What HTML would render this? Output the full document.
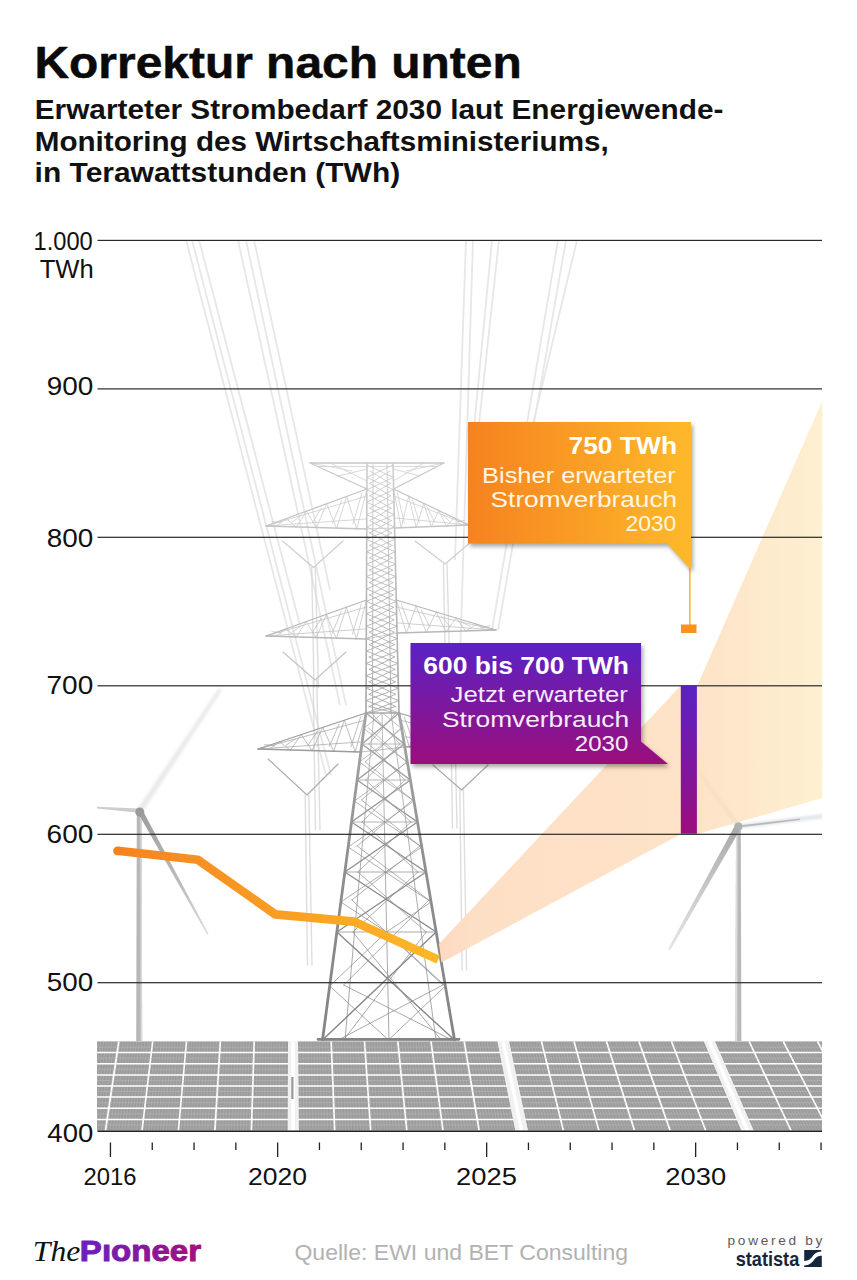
<!DOCTYPE html>
<html><head><meta charset="utf-8"><title>Korrektur nach unten</title>
<style>html,body{margin:0;padding:0;background:#fff}body{width:857px;height:1280px;overflow:hidden}svg{display:block}text{font-family:"Liberation Sans",sans-serif}.se{font-family:"Liberation Serif",serif}</style>
</head><body>
<svg width="857" height="1280" viewBox="0 0 857 1280">
<defs>
<linearGradient id="gOr" x1="0" y1="0" x2="1" y2="0"><stop offset="0" stop-color="#f6821f"/><stop offset="1" stop-color="#fdb92a"/></linearGradient>
<linearGradient id="gPu" x1="0" y1="0" x2="0" y2="1"><stop offset="0" stop-color="#5a22c4"/><stop offset="1" stop-color="#9b0e7c"/></linearGradient>
<linearGradient id="gLine" gradientUnits="userSpaceOnUse" x1="113" y1="0" x2="440" y2="0"><stop offset="0" stop-color="#f58220"/><stop offset="1" stop-color="#fdb827"/></linearGradient>
<linearGradient id="gCone" gradientUnits="userSpaceOnUse" x1="438" y1="0" x2="822" y2="0"><stop offset="0" stop-color="#fcd9c0"/><stop offset="0.08" stop-color="#fddfc6"/><stop offset="0.68" stop-color="#fee3c8"/><stop offset="1" stop-color="#fdf0d0"/></linearGradient>
<linearGradient id="gPy" gradientUnits="userSpaceOnUse" x1="0" y1="700" x2="0" y2="1040"><stop offset="0" stop-color="#a8a8a8"/><stop offset="0.5" stop-color="#8e8e8e"/><stop offset="1" stop-color="#848484"/></linearGradient>
<linearGradient id="gPyU" gradientUnits="userSpaceOnUse" x1="0" y1="463" x2="0" y2="713"><stop offset="0" stop-color="#cfcfcf"/><stop offset="0.5" stop-color="#b9b9b9"/><stop offset="1" stop-color="#a4a4a4"/></linearGradient>
<linearGradient id="gLogo" x1="0" y1="0" x2="1" y2="0"><stop offset="0" stop-color="#6a1fc4"/><stop offset="1" stop-color="#a3107a"/></linearGradient>
<filter id="sh" color-interpolation-filters="sRGB" x="-10%" y="-10%" width="125%" height="130%"><feGaussianBlur in="SourceAlpha" stdDeviation="2.2"/><feOffset dx="1.5" dy="2.5"/><feComponentTransfer><feFuncA type="linear" slope="0.35"/></feComponentTransfer><feMerge><feMergeNode/><feMergeNode in="SourceGraphic"/></feMerge></filter>
<filter id="bl1"><feGaussianBlur stdDeviation="0.6"/></filter>
<filter id="bl2"><feGaussianBlur stdDeviation="1.6"/></filter>
<clipPath id="cp"><rect x="97" y="236" width="725" height="896"/></clipPath>
</defs>
<rect width="857" height="1280" fill="#fff"/>
<g clip-path="url(#cp)">
<g stroke="#e7e7e7" stroke-width="1.8" fill="none" filter="url(#bl1)">
<line x1="186" y1="240" x2="326" y2="775"/>
<line x1="192" y1="240" x2="331" y2="775"/>
<line x1="199" y1="240" x2="300" y2="625"/>
<line x1="238" y1="240" x2="340" y2="705"/>
<line x1="246" y1="240" x2="346" y2="705"/>
<line x1="254" y1="240" x2="330" y2="590"/>
<line x1="466" y1="240" x2="455" y2="560"/>
<line x1="473" y1="240" x2="460" y2="660"/>
<line x1="492" y1="240" x2="470" y2="470"/>
<line x1="499" y1="240" x2="474" y2="470"/>
<line x1="558" y1="240" x2="492" y2="630"/>
<line x1="566" y1="240" x2="498" y2="630"/>
<line x1="577" y1="240" x2="522" y2="470"/>
</g>
<g fill="none" stroke-linecap="round" filter="url(#bl1)">
<path d="M311.7,567.5L314.0,687.5M315.3,567.5L318.5,687.5M443.4,564.0L445.7,684.0M447.0,564.0L450.2,684.0M313.2,680.0L315.5,830.0M316.8,680.0L320.0,830.0M450.2,678.0L452.5,828.0M453.8,678.0L457.0,828.0M305.2,795.0L307.5,965.0M308.8,795.0L312.0,965.0M459.8,790.0L462.1,970.0M463.4,790.0L466.6,970.0" stroke="#d6d6d6" stroke-width="1.4" opacity="0.8"/>
<path d="M282.5,541.0L313.5,567.5M343.0,541.0L313.5,567.5M415.0,541.0L445.2,564.0M472.0,541.0L445.2,564.0" stroke="#cecece" stroke-width="1.15"/>
<path d="M283.0,652.0L315.0,680.0M346.0,652.0L315.0,680.0M424.0,652.0L452.0,678.0M482.0,652.0L452.0,678.0" stroke="#c4c4c4" stroke-width="1.15"/>
<path d="M268.0,759.0L307.0,795.0M338.0,764.0L307.0,795.0M433.0,765.0L461.6,790.0M488.0,765.0L461.6,790.0" stroke="#adadad" stroke-width="1.15"/>
<path d="M366.9,496.0L266.0,526.0M393.6,496.0L469.0,525.0M266.0,526.0L365.7,519.0M469.0,525.0L395.5,518.0M366.9,489.0L356.8,529.0M356.8,529.0L346.7,496.4M361.9,493.0L352.8,524.0M346.7,496.4L336.6,528.4M336.6,528.4L326.5,503.8M341.7,500.4L332.6,523.4M326.5,503.8L316.4,527.8M316.4,527.8L306.4,511.2M321.5,507.8L312.4,522.8M306.4,511.2L296.3,527.2M296.3,527.2L286.2,518.6M301.3,515.2L292.2,522.2M286.2,518.6L276.1,526.6M276.1,526.6L266.0,526.0M281.1,522.6L272.1,521.6M393.6,489.0L401.2,528.0M401.2,528.0L408.7,496.2M397.4,493.0L404.2,523.0M408.7,496.2L416.2,527.4M416.2,527.4L423.8,503.4M412.5,500.2L419.3,522.4M423.8,503.4L431.3,526.8M431.3,526.8L438.8,510.6M427.5,507.4L434.3,521.8M438.8,510.6L446.4,526.2M446.4,526.2L453.9,517.8M442.6,514.6L449.4,521.2M453.9,517.8L461.5,525.6M461.5,525.6L469.0,525.0M457.7,521.8L464.5,520.6M366.7,529.0L394.5,528.0" stroke="#cdcdcd" stroke-width="0.8"/>
<path d="M366.9,489.0L266.0,526.0M266.0,526.0L366.7,529.0M393.6,489.0L469.0,525.0M469.0,525.0L394.5,528.0" stroke="#c4c4c4" stroke-width="1.3"/>
<path d="M366.5,607.0L266.0,636.0M396.3,607.0L496.0,630.0M266.0,636.0L365.3,629.0M496.0,630.0L398.0,623.0M366.5,600.0L356.4,639.0M356.4,639.0L346.4,607.2M361.4,604.0L352.4,634.0M346.4,607.2L336.3,638.4M336.3,638.4L326.3,614.4M341.3,611.2L332.3,633.4M326.3,614.4L316.2,637.8M316.2,637.8L306.2,621.6M321.2,618.4L312.2,632.8M306.2,621.6L296.1,637.2M296.1,637.2L286.1,628.8M301.2,625.6L292.1,632.2M286.1,628.8L276.0,636.6M276.0,636.6L266.0,636.0M281.1,632.8L272.0,631.6M396.3,600.0L406.3,633.0M406.3,633.0L416.2,606.0M401.3,604.0L410.2,628.0M416.2,606.0L426.2,632.4M426.2,632.4L436.2,612.0M421.2,610.0L430.2,627.4M436.2,612.0L446.1,631.8M446.1,631.8L456.1,618.0M441.2,616.0L450.1,626.8M456.1,618.0L466.1,631.2M466.1,631.2L476.1,624.0M461.1,622.0L470.1,626.2M476.1,624.0L486.0,630.6M486.0,630.6L496.0,630.0M481.0,628.0L490.0,625.6M366.3,639.0L397.0,633.0" stroke="#c4c4c4" stroke-width="0.8"/>
<path d="M366.5,600.0L266.0,636.0M266.0,636.0L366.3,639.0M396.3,600.0L496.0,630.0M496.0,630.0L397.1,633.0" stroke="#b8b8b8" stroke-width="1.3"/>
<path d="M366.0,720.0L258.0,749.0M399.0,720.0L502.0,744.0M258.0,749.0L360.2,742.0M502.0,744.0L405.3,737.0M366.0,713.0L355.2,752.0M355.2,752.0L344.4,720.2M360.6,717.0L350.9,747.0M344.4,720.2L333.6,751.4M333.6,751.4L322.8,727.4M339.0,724.2L329.3,746.4M322.8,727.4L312.0,750.8M312.0,750.8L301.2,734.6M317.4,731.4L307.7,745.8M301.2,734.6L290.4,750.2M290.4,750.2L279.6,741.8M295.8,738.6L286.1,745.2M279.6,741.8L268.8,749.6M268.8,749.6L258.0,749.0M274.2,745.8L264.5,744.6M399.0,713.0L409.3,747.0M409.3,747.0L419.6,719.2M404.1,717.0L413.4,742.0M419.6,719.2L429.9,746.4M429.9,746.4L440.2,725.4M424.8,723.2L434.0,741.4M440.2,725.4L450.5,745.8M450.5,745.8L460.8,731.6M445.3,729.4L454.6,740.8M460.8,731.6L471.1,745.2M471.1,745.2L481.4,737.8M465.9,735.6L475.2,740.2M481.4,737.8L491.7,744.6M491.7,744.6L502.0,744.0M486.5,741.8L495.8,739.6M361.2,752.0L404.3,747.0" stroke="#adadad" stroke-width="0.8"/>
<path d="M366.0,713.0L258.0,749.0M258.0,749.0L360.9,752.0M399.0,713.0L502.0,744.0M502.0,744.0L404.6,747.0" stroke="#9c9c9c" stroke-width="1.3"/>
<path d="M318.0,466.5L436.0,466.5M310.0,463.0L352.0,471.0M444.0,463.0L406.0,471.0M330.0,463.0L366.9,481.0M424.0,463.0L393.4,481.0M338.0,476.0L367.0,469.0M420.0,476.0L393.0,469.0" stroke="#d0d0d0" stroke-width="0.8"/>
<path d="M310.0,463.0L444.0,463.0M310.0,463.0L366.9,489.0M444.0,463.0L393.6,489.0" stroke="#c8c8c8" stroke-width="1.3"/>
<path d="M367.0,465.0L393.3,477.4M393.0,465.0L366.9,477.4M366.9,477.4L393.6,489.8M393.3,477.4L366.9,489.8M366.9,489.8L393.9,502.2M393.6,489.8L366.8,502.2M366.8,502.2L394.2,514.6M393.9,502.2L366.8,514.6M366.8,514.6L394.5,527.0M394.2,514.6L366.7,527.0M366.7,527.0L394.8,539.4M394.5,527.0L366.7,539.4M366.7,539.4L395.1,551.8M394.8,539.4L366.6,551.8M366.6,551.8L395.4,564.2M395.1,551.8L366.6,564.2M366.6,564.2L395.7,576.6M395.4,564.2L366.5,576.6M366.5,576.6L396.0,589.0M395.7,576.6L366.5,589.0M366.5,589.0L396.3,601.4M396.0,589.0L366.4,601.4M366.4,601.4L396.6,613.8M396.3,601.4L366.4,613.8M366.4,613.8L396.9,626.2M396.6,613.8L366.3,626.2M366.3,626.2L397.2,638.6M396.9,626.2L366.3,638.6M366.3,638.6L397.5,651.0M397.2,638.6L366.2,651.0M366.2,651.0L397.8,663.4M397.5,651.0L366.2,663.4M366.2,663.4L398.1,675.8M397.8,663.4L366.1,675.8M366.1,675.8L398.4,688.2M398.1,675.8L366.1,688.2M366.1,688.2L398.7,700.6M398.4,688.2L366.0,700.6M366.0,700.6L399.0,713.0M398.7,700.6L366.0,713.0M366.0,713.0L399.0,713.0M399.0,713.0L366.0,713.0M370.0,471.0L390.5,483.4M390.2,471.0L369.9,483.4M369.9,483.4L390.8,495.8M390.5,483.4L369.9,495.8M369.9,495.8L391.1,508.2M390.8,495.8L369.8,508.2M369.8,508.2L391.4,520.6M391.1,508.2L369.8,520.6M369.8,520.6L391.7,533.0M391.4,520.6L369.7,533.0M369.7,533.0L392.0,545.4M391.7,533.0L369.7,545.4M369.7,545.4L392.3,557.8M392.0,545.4L369.6,557.8M369.6,557.8L392.6,570.2M392.3,557.8L369.6,570.2M369.6,570.2L392.9,582.6M392.6,570.2L369.5,582.6M369.5,582.6L393.2,595.0M392.9,582.6L369.5,595.0M369.5,595.0L393.5,607.4M393.2,595.0L369.4,607.4M369.4,607.4L393.8,619.8M393.5,607.4L369.4,619.8M369.4,619.8L394.1,632.2M393.8,619.8L369.3,632.2M369.3,632.2L394.4,644.6M394.1,632.2L369.3,644.6M369.3,644.6L394.7,657.0M394.4,644.6L369.2,657.0M369.2,657.0L395.0,669.4M394.7,657.0L369.2,669.4M369.2,669.4L395.3,681.8M395.0,669.4L369.1,681.8M369.1,681.8L395.5,694.2M395.3,681.8L369.1,694.2M369.1,694.2L395.8,706.6M395.5,694.2L369.0,706.6M369.0,706.6L396.0,713.0M395.8,706.6L369.0,713.0M373.0,463.0L372.5,713.0M387.0,463.0L391.0,713.0" stroke="url(#gPyU)" stroke-width="0.9"/>
<path d="M367.0,463 L366.0,713M393.0,463 L399.0,713" stroke="url(#gPyU)" stroke-width="1.6"/>
<path d="M361.9,744.0L404.3,744.0M363.9,728.5L382.5,713.0M401.6,728.5L382.5,713.0M363.9,728.5L383.1,744.0M401.6,728.5L383.1,744.0M371.3,713.0L400.0,744.0M395.7,713.0L368.7,744.0M357.1,780.0L410.4,780.0M359.5,762.0L383.1,744.0M407.3,762.0L383.1,744.0M359.5,762.0L383.7,780.0M407.3,762.0L383.7,780.0M368.7,744.0L405.0,780.0M400.0,744.0L365.6,780.0M351.5,822.0L417.5,822.0M354.3,801.0L383.7,780.0M413.9,801.0L383.7,780.0M354.3,801.0L384.5,822.0M413.9,801.0L384.5,822.0M365.6,780.0L410.9,822.0M405.0,780.0L362.1,822.0M344.8,872.0L426.0,872.0M348.2,847.0L384.5,822.0M421.7,847.0L384.5,822.0M348.2,847.0L385.4,872.0M421.7,847.0L385.4,872.0M362.1,822.0L417.9,872.0M410.9,822.0L357.8,872.0M336.9,932.0L436.2,932.0M340.9,902.0L385.4,872.0M431.1,902.0L385.4,872.0M340.9,902.0L386.5,932.0M431.1,902.0L386.5,932.0M357.8,872.0L426.2,932.0M417.9,872.0L352.8,932.0M322.5,1040.0L454.5,1040.0M329.7,986.0L386.5,932.0M445.3,986.0L386.5,932.0M329.7,986.0L388.5,1040.0M445.3,986.0L388.5,1040.0M352.8,932.0L441.3,1040.0M426.2,932.0L343.6,1040.0M368.5,728.0L406.4,762.0M400.8,728.0L365.2,762.0M365.2,762.0L412.6,800.0M406.4,762.0L361.5,800.0M361.5,800.0L420.1,846.0M412.6,800.0L357.1,846.0M357.1,846.0L428.9,900.0M420.1,846.0L351.9,900.0M351.9,900.0L442.9,985.0M428.9,900.0L343.7,985.0M343.7,985.0L451.9,1040.0M442.9,985.0L338.3,1040.0M374.0,713.0L345.0,1040.0M391.0,713.0L436.0,1040.0M382.0,713.0L389.0,1040.0" stroke="url(#gPy)" stroke-width="0.8" opacity="0.9"/>
<path d="M366.0,713.0L404.3,744.0M399.0,713.0L361.9,744.0M361.9,744.0L410.4,780.0M404.3,744.0L357.1,780.0M357.1,780.0L417.5,822.0M410.4,780.0L351.5,822.0M351.5,822.0L426.0,872.0M417.5,822.0L344.8,872.0M344.8,872.0L436.2,932.0M426.0,872.0L336.9,932.0M336.9,932.0L454.5,1040.0M436.2,932.0L322.5,1040.0" stroke="url(#gPy)" stroke-width="1.4"/>
<path d="M366.0,713 L322.5,1040M399.0,713 L454.5,1040M318.0,1039.3L459.0,1039.3" stroke="url(#gPy)" stroke-width="2.8"/>
</g>
<path d="M137.5,809 L142,813 L222,690 L219,688 Z" fill="#e9e9e9" filter="url(#bl2)"/>
<g filter="url(#bl1)">
<path d="M136.8,812 L141.6,812 L142.2,1041 L136.2,1041 Z" fill="#b7b7b7"/>
<path d="M140.2,812 L141.6,812 L142.2,1041 L140.6,1041 Z" fill="#d9d9d9"/>
<linearGradient id="gB1" gradientUnits="userSpaceOnUse" x1="139" y1="811" x2="208" y2="934"><stop offset="0" stop-color="#9c9c9c"/><stop offset="0.6" stop-color="#bdbdbd"/><stop offset="1" stop-color="#dcdcdc"/></linearGradient>
<path d="M138,813 L142.6,810.2 L208.6,934 L207.2,934.6 Z" fill="url(#gB1)"/>
<path d="M139,808.6 L139,812.8 L97,808.6 L97,806.8 Z" fill="#cdcdcd"/>
<circle cx="139.8" cy="812" r="4.5" fill="#9a9a9a"/>
</g>
<g filter="url(#bl1)">
<path d="M736,828 L740.8,828 L741.4,1041 L735.4,1041 Z" fill="#b9b9b9"/>
<path d="M736,828 L737.6,828 L737.2,1041 L735.4,1041 Z" fill="#dedede"/>
<circle cx="738.4" cy="826.4" r="4" fill="#b0b0b0"/>
<linearGradient id="gB2" gradientUnits="userSpaceOnUse" x1="738" y1="826" x2="669" y2="950"><stop offset="0" stop-color="#a8a8a8"/><stop offset="0.5" stop-color="#c8c8c8"/><stop offset="1" stop-color="#e6e6e6"/></linearGradient>
<path d="M735.5,824.5 L741,828 L670,950.5 L668,949 Z" fill="url(#gB2)"/>
</g>
<g>
<rect x="97" y="1041.5" width="725" height="89.0" fill="#ececec"/>
<path d="M85,1041.5 L288,1041.5 L287.8,1130.5 L69.0,1130.5 Z" fill="#9c9c9c"/>
<path d="M298,1041.5 L497.5,1041.5 L515.4,1130.5 L298.7,1130.5 Z" fill="#9c9c9c"/>
<path d="M509,1041.5 L704,1041.5 L741.4,1130.5 L527.9,1130.5 Z" fill="#9c9c9c"/>
<path d="M715,1041.5 L920,1041.5 L979.6,1130.5 L753.5,1130.5 Z" fill="#9c9c9c"/>
<path d="M87.2,1041.5L71.4,1130.5M90.0,1041.5L74.3,1130.5M92.7,1041.5L77.3,1130.5M95.5,1041.5L80.3,1130.5M98.2,1041.5L83.2,1130.5M101.0,1041.5L86.2,1130.5M103.7,1041.5L89.2,1130.5M106.5,1041.5L92.1,1130.5M109.2,1041.5L95.1,1130.5M112.0,1041.5L98.1,1130.5M114.7,1041.5L101.0,1130.5M117.5,1041.5L104.0,1130.5M120.2,1041.5L107.0,1130.5M123.0,1041.5L109.9,1130.5M125.7,1041.5L112.9,1130.5M128.4,1041.5L115.8,1130.5M131.2,1041.5L118.8,1130.5M133.9,1041.5L121.8,1130.5M136.7,1041.5L124.7,1130.5M139.4,1041.5L127.7,1130.5M142.2,1041.5L130.7,1130.5M144.9,1041.5L133.6,1130.5M147.7,1041.5L136.6,1130.5M150.4,1041.5L139.6,1130.5M153.2,1041.5L142.5,1130.5M155.9,1041.5L145.5,1130.5M158.7,1041.5L148.5,1130.5M161.4,1041.5L151.4,1130.5M164.2,1041.5L154.4,1130.5M166.9,1041.5L157.4,1130.5M169.7,1041.5L160.3,1130.5M172.4,1041.5L163.3,1130.5M175.2,1041.5L166.2,1130.5M177.9,1041.5L169.2,1130.5M180.7,1041.5L172.2,1130.5M183.4,1041.5L175.1,1130.5M186.2,1041.5L178.1,1130.5M188.9,1041.5L181.1,1130.5M191.7,1041.5L184.0,1130.5M194.4,1041.5L187.0,1130.5M197.2,1041.5L190.0,1130.5M199.9,1041.5L192.9,1130.5M202.7,1041.5L195.9,1130.5M205.4,1041.5L198.9,1130.5M208.2,1041.5L201.8,1130.5M210.9,1041.5L204.8,1130.5M213.7,1041.5L207.7,1130.5M216.4,1041.5L210.7,1130.5M219.2,1041.5L213.7,1130.5M221.9,1041.5L216.6,1130.5M224.7,1041.5L219.6,1130.5M227.4,1041.5L222.6,1130.5M230.2,1041.5L225.5,1130.5M232.9,1041.5L228.5,1130.5M235.7,1041.5L231.5,1130.5M238.4,1041.5L234.4,1130.5M241.2,1041.5L237.4,1130.5M243.9,1041.5L240.4,1130.5M246.7,1041.5L243.3,1130.5M249.4,1041.5L246.3,1130.5M252.2,1041.5L249.3,1130.5M254.9,1041.5L252.2,1130.5M257.7,1041.5L255.2,1130.5M260.4,1041.5L258.1,1130.5M263.2,1041.5L261.1,1130.5M265.9,1041.5L264.1,1130.5M268.7,1041.5L267.0,1130.5M271.4,1041.5L270.0,1130.5M274.2,1041.5L273.0,1130.5M276.9,1041.5L275.9,1130.5M279.7,1041.5L278.9,1130.5M282.4,1041.5L281.9,1130.5M285.2,1041.5L284.8,1130.5M300.2,1041.5L301.0,1130.5M302.9,1041.5L304.0,1130.5M305.7,1041.5L307.0,1130.5M308.4,1041.5L310.0,1130.5M311.2,1041.5L312.9,1130.5M313.9,1041.5L315.9,1130.5M316.7,1041.5L318.9,1130.5M319.4,1041.5L321.9,1130.5M322.2,1041.5L324.9,1130.5M324.9,1041.5L327.8,1130.5M327.7,1041.5L330.8,1130.5M330.4,1041.5L333.8,1130.5M333.2,1041.5L336.8,1130.5M335.9,1041.5L339.8,1130.5M338.7,1041.5L342.7,1130.5M341.4,1041.5L345.7,1130.5M344.2,1041.5L348.7,1130.5M346.9,1041.5L351.7,1130.5M349.7,1041.5L354.7,1130.5M352.4,1041.5L357.6,1130.5M355.2,1041.5L360.6,1130.5M357.9,1041.5L363.6,1130.5M360.7,1041.5L366.6,1130.5M363.4,1041.5L369.6,1130.5M366.2,1041.5L372.6,1130.5M368.9,1041.5L375.5,1130.5M371.7,1041.5L378.5,1130.5M374.4,1041.5L381.5,1130.5M377.2,1041.5L384.5,1130.5M379.9,1041.5L387.5,1130.5M382.7,1041.5L390.5,1130.5M385.4,1041.5L393.5,1130.5M388.2,1041.5L396.4,1130.5M390.9,1041.5L399.4,1130.5M393.7,1041.5L402.4,1130.5M396.4,1041.5L405.4,1130.5M399.2,1041.5L408.4,1130.5M401.9,1041.5L411.4,1130.5M404.7,1041.5L414.4,1130.5M407.4,1041.5L417.4,1130.5M410.2,1041.5L420.3,1130.5M412.9,1041.5L423.3,1130.5M415.7,1041.5L426.3,1130.5M418.4,1041.5L429.3,1130.5M421.2,1041.5L432.3,1130.5M423.9,1041.5L435.3,1130.5M426.7,1041.5L438.3,1130.5M429.4,1041.5L441.3,1130.5M432.2,1041.5L444.3,1130.5M434.9,1041.5L447.3,1130.5M437.7,1041.5L450.2,1130.5M440.4,1041.5L453.2,1130.5M443.2,1041.5L456.2,1130.5M445.9,1041.5L459.2,1130.5M448.7,1041.5L462.2,1130.5M451.4,1041.5L465.2,1130.5M454.2,1041.5L468.2,1130.5M456.9,1041.5L471.2,1130.5M459.7,1041.5L474.2,1130.5M462.4,1041.5L477.2,1130.5M465.2,1041.5L480.2,1130.5M467.9,1041.5L483.2,1130.5M470.7,1041.5L486.2,1130.5M473.4,1041.5L489.2,1130.5M476.2,1041.5L492.2,1130.5M478.9,1041.5L495.2,1130.5M481.7,1041.5L498.2,1130.5M484.4,1041.5L501.2,1130.5M487.2,1041.5L504.1,1130.5M489.9,1041.5L507.1,1130.5M492.7,1041.5L510.1,1130.5M495.4,1041.5L513.1,1130.5M511.2,1041.5L530.3,1130.5M514.0,1041.5L533.3,1130.5M516.7,1041.5L536.3,1130.5M519.5,1041.5L539.3,1130.5M522.2,1041.5L542.3,1130.5M525.0,1041.5L545.3,1130.5M527.7,1041.5L548.3,1130.5M530.5,1041.5L551.3,1130.5M533.2,1041.5L554.3,1130.5M536.0,1041.5L557.3,1130.5M538.7,1041.5L560.3,1130.5M541.5,1041.5L563.3,1130.5M544.2,1041.5L566.3,1130.5M547.0,1041.5L569.3,1130.5M549.7,1041.5L572.3,1130.5M552.5,1041.5L575.3,1130.5M555.2,1041.5L578.4,1130.5M558.0,1041.5L581.4,1130.5M560.7,1041.5L584.4,1130.5M563.5,1041.5L587.4,1130.5M566.2,1041.5L590.4,1130.5M569.0,1041.5L593.4,1130.5M571.7,1041.5L596.4,1130.5M574.5,1041.5L599.4,1130.5M577.2,1041.5L602.4,1130.5M580.0,1041.5L605.4,1130.5M582.7,1041.5L608.4,1130.5M585.5,1041.5L611.4,1130.5M588.2,1041.5L614.4,1130.5M591.0,1041.5L617.4,1130.5M593.7,1041.5L620.4,1130.5M596.5,1041.5L623.5,1130.5M599.2,1041.5L626.5,1130.5M602.0,1041.5L629.5,1130.5M604.7,1041.5L632.5,1130.5M607.5,1041.5L635.5,1130.5M610.2,1041.5L638.5,1130.5M613.0,1041.5L641.5,1130.5M615.7,1041.5L644.5,1130.5M618.5,1041.5L647.5,1130.5M621.2,1041.5L650.6,1130.5M624.0,1041.5L653.6,1130.5M626.7,1041.5L656.6,1130.5M629.5,1041.5L659.6,1130.5M632.2,1041.5L662.6,1130.5M635.0,1041.5L665.6,1130.5M637.7,1041.5L668.6,1130.5M640.5,1041.5L671.6,1130.5M643.2,1041.5L674.7,1130.5M646.0,1041.5L677.7,1130.5M648.7,1041.5L680.7,1130.5M651.5,1041.5L683.7,1130.5M654.2,1041.5L686.7,1130.5M657.0,1041.5L689.7,1130.5M659.7,1041.5L692.7,1130.5M662.5,1041.5L695.8,1130.5M665.2,1041.5L698.8,1130.5M668.0,1041.5L701.8,1130.5M670.7,1041.5L704.8,1130.5M673.5,1041.5L707.8,1130.5M676.2,1041.5L710.9,1130.5M679.0,1041.5L713.9,1130.5M681.7,1041.5L716.9,1130.5M684.5,1041.5L719.9,1130.5M687.2,1041.5L722.9,1130.5M690.0,1041.5L725.9,1130.5M692.7,1041.5L729.0,1130.5M695.5,1041.5L732.0,1130.5M698.2,1041.5L735.0,1130.5M701.0,1041.5L738.0,1130.5M717.2,1041.5L755.9,1130.5M720.0,1041.5L758.9,1130.5M722.7,1041.5L761.9,1130.5M725.5,1041.5L764.9,1130.5M728.2,1041.5L768.0,1130.5M731.0,1041.5L771.0,1130.5M733.7,1041.5L774.0,1130.5M736.5,1041.5L777.0,1130.5M739.2,1041.5L780.1,1130.5M742.0,1041.5L783.1,1130.5M744.7,1041.5L786.1,1130.5M747.5,1041.5L789.1,1130.5M750.2,1041.5L792.2,1130.5M753.0,1041.5L795.2,1130.5M755.7,1041.5L798.2,1130.5M758.5,1041.5L801.3,1130.5M761.2,1041.5L804.3,1130.5M764.0,1041.5L807.3,1130.5M766.7,1041.5L810.3,1130.5M769.5,1041.5L813.4,1130.5M772.2,1041.5L816.4,1130.5M775.0,1041.5L819.4,1130.5M777.7,1041.5L822.4,1130.5M780.5,1041.5L825.5,1130.5M783.2,1041.5L828.5,1130.5M786.0,1041.5L831.5,1130.5M788.7,1041.5L834.6,1130.5M791.5,1041.5L837.6,1130.5M794.2,1041.5L840.6,1130.5M797.0,1041.5L843.7,1130.5M799.7,1041.5L846.7,1130.5M802.5,1041.5L849.7,1130.5M805.2,1041.5L852.8,1130.5M808.0,1041.5L855.8,1130.5M810.7,1041.5L858.8,1130.5M813.5,1041.5L861.9,1130.5M816.2,1041.5L864.9,1130.5M819.0,1041.5L867.9,1130.5M821.7,1041.5L871.0,1130.5M824.5,1041.5L874.0,1130.5M827.2,1041.5L877.0,1130.5M830.0,1041.5L880.1,1130.5M832.7,1041.5L883.1,1130.5M835.5,1041.5L886.1,1130.5M838.2,1041.5L889.2,1130.5M841.0,1041.5L892.2,1130.5M843.7,1041.5L895.2,1130.5M846.5,1041.5L898.3,1130.5M849.2,1041.5L901.3,1130.5M852.0,1041.5L904.3,1130.5M854.7,1041.5L907.4,1130.5M857.5,1041.5L910.4,1130.5M860.2,1041.5L913.5,1130.5M863.0,1041.5L916.5,1130.5M865.7,1041.5L919.5,1130.5M868.5,1041.5L922.6,1130.5M871.2,1041.5L925.6,1130.5M874.0,1041.5L928.7,1130.5M876.7,1041.5L931.7,1130.5M879.5,1041.5L934.7,1130.5M882.2,1041.5L937.8,1130.5M885.0,1041.5L940.8,1130.5M887.7,1041.5L943.9,1130.5M890.5,1041.5L946.9,1130.5M893.2,1041.5L949.9,1130.5M896.0,1041.5L953.0,1130.5M898.7,1041.5L956.0,1130.5M901.5,1041.5L959.1,1130.5M904.2,1041.5L962.1,1130.5M907.0,1041.5L965.2,1130.5M909.7,1041.5L968.2,1130.5M912.5,1041.5L971.2,1130.5M915.2,1041.5L974.3,1130.5M918.0,1041.5L977.3,1130.5" stroke="#b4b4b4" stroke-width="0.7" fill="none" opacity="0.75"/>
<path d="M118.8,1041.5L105.5,1130.5M152.7,1041.5L142.0,1130.5M186.5,1041.5L178.4,1130.5M220.3,1041.5L214.9,1130.5M254.2,1041.5L251.4,1130.5M331.2,1041.5L334.7,1130.5M364.5,1041.5L370.7,1130.5M397.8,1041.5L406.8,1130.5M431.0,1041.5L443.0,1130.5M464.2,1041.5L479.1,1130.5M541.5,1041.5L563.4,1130.5M574.0,1041.5L598.9,1130.5M606.5,1041.5L634.5,1130.5M639.0,1041.5L670.1,1130.5M671.5,1041.5L705.7,1130.5M749.2,1041.5L791.0,1130.5M783.3,1041.5L828.7,1130.5M817.5,1041.5L866.3,1130.5M851.7,1041.5L904.0,1130.5M885.8,1041.5L941.8,1130.5" stroke="#fff" stroke-width="1.7" fill="none"/>
<path d="M97.0,1052.6L822.0,1052.6M97.0,1063.8L822.0,1063.8M97.0,1074.9L822.0,1074.9M97.0,1086.0L822.0,1086.0M97.0,1097.1L822.0,1097.1M97.0,1108.2L822.0,1108.2M97.0,1119.4L822.0,1119.4" stroke="#fff" stroke-width="1.5" fill="none"/>
<path d="M97.0,1047.1L822.0,1047.1M97.0,1058.2L822.0,1058.2M97.0,1069.3L822.0,1069.3M97.0,1080.4L822.0,1080.4M97.0,1091.6L822.0,1091.6M97.0,1102.7L822.0,1102.7M97.0,1113.8L822.0,1113.8M97.0,1124.9L822.0,1124.9" stroke="#c4c4c4" stroke-width="0.6" fill="none" opacity="0.7"/>
<path d="M288,1041.5 L298,1041.5 L298.7,1130.5 L287.8,1130.5 Z" fill="#f1f1f1"/>
<path d="M293.0,1041.5L293.2,1130.5" stroke="#fff" stroke-width="3.5"/>
<path d="M497.5,1041.5 L509,1041.5 L527.9,1130.5 L515.4,1130.5 Z" fill="#f1f1f1"/>
<path d="M503.2,1041.5L521.6,1130.5" stroke="#fff" stroke-width="3.5"/>
<path d="M704,1041.5 L715,1041.5 L753.5,1130.5 L741.4,1130.5 Z" fill="#f1f1f1"/>
<path d="M709.5,1041.5L747.4,1130.5" stroke="#fff" stroke-width="3.5"/>
<rect x="291.3" y="1077" width="2.2" height="22" fill="#999"/>
</g>
</g>
<path d="M439,944 L681,685.3 L697.5,685.3 L822.3,401 L822.3,798 L697.5,834 L681,834 L441.5,962.5 Z" fill="url(#gCone)"/>
<g clip-path="url(#cp)">
<path d="M738,824.5 L738.6,828.5 L830,817.5 L830,813.5 Z" fill="#dfe3e8" filter="url(#bl2)"/>
<path d="M738,825.5 L738.4,827.6 L800,820 L800,818.6 Z" fill="#b8babd" filter="url(#bl1)"/>
<path d="M737,827.5 L740.5,825 L701,773 L699,775 Z" fill="#f1d9c2" opacity="0.6" filter="url(#bl2)"/>
<circle cx="738.4" cy="826.4" r="3.8" fill="#aeb0b2" filter="url(#bl1)"/>
</g>
<rect x="97.5" y="239.8" width="724.5" height="1.2" fill="#2a2a2a"/>
<rect x="97.5" y="388.3" width="724.5" height="1.2" fill="#2a2a2a"/>
<rect x="97.5" y="536.7" width="724.5" height="1.2" fill="#2a2a2a"/>
<rect x="97.5" y="685.2" width="724.5" height="1.2" fill="#2a2a2a"/>
<rect x="97.5" y="833.7" width="724.5" height="1.2" fill="#2a2a2a"/>
<rect x="97.5" y="982.1" width="724.5" height="1.2" fill="#2a2a2a"/>
<rect x="97.5" y="1130.5" width="724.5" height="1.5" fill="#222"/>
<rect x="109.8" y="1142.5" width="1.3" height="14.5" fill="#222"/>
<rect x="151.6" y="1142.5" width="1.3" height="7.5" fill="#222"/>
<rect x="193.4" y="1142.5" width="1.3" height="7.5" fill="#222"/>
<rect x="235.2" y="1142.5" width="1.3" height="7.5" fill="#222"/>
<rect x="277.0" y="1142.5" width="1.3" height="14.5" fill="#222"/>
<rect x="318.8" y="1142.5" width="1.3" height="7.5" fill="#222"/>
<rect x="360.6" y="1142.5" width="1.3" height="7.5" fill="#222"/>
<rect x="402.4" y="1142.5" width="1.3" height="7.5" fill="#222"/>
<rect x="444.2" y="1142.5" width="1.3" height="7.5" fill="#222"/>
<rect x="486.0" y="1142.5" width="1.3" height="14.5" fill="#222"/>
<rect x="527.8" y="1142.5" width="1.3" height="7.5" fill="#222"/>
<rect x="569.6" y="1142.5" width="1.3" height="7.5" fill="#222"/>
<rect x="611.4" y="1142.5" width="1.3" height="7.5" fill="#222"/>
<rect x="653.2" y="1142.5" width="1.3" height="7.5" fill="#222"/>
<rect x="695.0" y="1142.5" width="1.3" height="14.5" fill="#222"/>
<rect x="736.8" y="1142.5" width="1.3" height="7.5" fill="#222"/>
<rect x="778.6" y="1142.5" width="1.3" height="7.5" fill="#222"/>
<rect x="820.4" y="1142.5" width="1.3" height="7.5" fill="#222"/>
<path d="M117.5,850.8 L197.8,859.8 L275.3,914.4 L354,921.6 L438.2,959.6" fill="none" stroke="url(#gLine)" stroke-width="8.7" stroke-linejoin="round"/>
<circle cx="117.5" cy="850.8" r="4.35" fill="#f58220"/>
<rect x="680.8" y="685.3" width="16.1" height="148.5" fill="url(#gPu)"/>
<rect x="689" y="560" width="1.6" height="66" fill="#fdb92a"/>
<rect x="681" y="624.5" width="15.5" height="8.5" fill="#f7931e"/>
<g filter="url(#sh)"><path d="M468,422 H691 V570 L667,543.5 H468 Z" fill="url(#gOr)"/></g>
<g filter="url(#sh)"><path d="M410.5,643 H641 V741.5 L668,764 H410.5 Z" fill="url(#gPu)"/></g>
<text x="568.47" y="454" font-size="24.6" font-weight="700" fill="#fff" textLength="108.57" lengthAdjust="spacingAndGlyphs">750 TWh</text>
<text x="482.01" y="482.8" font-size="21.6" font-weight="400" fill="#fff6e3" textLength="193.81" lengthAdjust="spacingAndGlyphs">Bisher erwarteter</text>
<text x="490.61" y="506.6" font-size="21.6" font-weight="400" fill="#fff6e3" textLength="186.49" lengthAdjust="spacingAndGlyphs">Stromverbrauch</text>
<text x="625.45" y="530.8" font-size="21.6" font-weight="400" fill="#fff6e3" textLength="50.84" lengthAdjust="spacingAndGlyphs">2030</text>
<text x="423.23" y="673.7" font-size="24.6" font-weight="700" fill="#fff" textLength="205.81" lengthAdjust="spacingAndGlyphs">600 bis 700 TWh</text>
<text x="450.60" y="702.4" font-size="21.6" font-weight="400" fill="#f6ecfb" textLength="177.23" lengthAdjust="spacingAndGlyphs">Jetzt erwarteter</text>
<text x="441.90" y="726.6" font-size="21.6" font-weight="400" fill="#f6ecfb" textLength="187.20" lengthAdjust="spacingAndGlyphs">Stromverbrauch</text>
<text x="574.79" y="750.9" font-size="21.6" font-weight="400" fill="#f6ecfb" textLength="53.55" lengthAdjust="spacingAndGlyphs">2030</text>
<text x="34.49" y="78.3" font-size="44.6" font-weight="700" fill="#0a0a0a" textLength="487.18" lengthAdjust="spacingAndGlyphs" stroke="#0a0a0a" stroke-width="0.5" stroke-linejoin="round">Korrektur nach unten</text>
<text x="34.71" y="119.0" font-size="26.8" font-weight="700" fill="#111" textLength="688.69" lengthAdjust="spacingAndGlyphs">Erwarteter Strombedarf 2030 laut Energiewende-</text>
<text x="34.72" y="150.5" font-size="26.8" font-weight="700" fill="#111" textLength="573.96" lengthAdjust="spacingAndGlyphs">Monitoring des Wirtschaftsministeriums,</text>
<text x="34.62" y="181.6" font-size="26.8" font-weight="700" fill="#111" textLength="365.56" lengthAdjust="spacingAndGlyphs">in Terawattstunden (TWh)</text>
<text x="33.50" y="250.1" font-size="25.2" font-weight="400" fill="#111" textLength="59.23" lengthAdjust="spacingAndGlyphs">1.000</text>
<text x="39.72" y="278" font-size="25.2" font-weight="400" fill="#111" textLength="54.04" lengthAdjust="spacingAndGlyphs">TWh</text>
<text x="46.69" y="395" font-size="25.2" font-weight="400" fill="#111" textLength="46.60" lengthAdjust="spacingAndGlyphs">900</text>
<text x="46.79" y="547.3" font-size="25.2" font-weight="400" fill="#111" textLength="46.50" lengthAdjust="spacingAndGlyphs">800</text>
<text x="46.56" y="694.2" font-size="25.2" font-weight="400" fill="#111" textLength="46.73" lengthAdjust="spacingAndGlyphs">700</text>
<text x="46.58" y="843.3" font-size="25.2" font-weight="400" fill="#111" textLength="46.72" lengthAdjust="spacingAndGlyphs">600</text>
<text x="46.89" y="991.1" font-size="25.2" font-weight="400" fill="#111" textLength="46.40" lengthAdjust="spacingAndGlyphs">500</text>
<text x="47.37" y="1142.2" font-size="25.2" font-weight="400" fill="#111" textLength="45.91" lengthAdjust="spacingAndGlyphs">400</text>
<text x="83.50" y="1184.8" font-size="24.4" font-weight="400" fill="#111" textLength="53.05" lengthAdjust="spacingAndGlyphs">2016</text>
<text x="248.07" y="1184.8" font-size="24.4" font-weight="400" fill="#111" textLength="58.97" lengthAdjust="spacingAndGlyphs">2020</text>
<text x="456.02" y="1184.8" font-size="24.4" font-weight="400" fill="#111" textLength="60.82" lengthAdjust="spacingAndGlyphs">2025</text>
<text x="665.33" y="1184.8" font-size="24.4" font-weight="400" fill="#111" textLength="60.74" lengthAdjust="spacingAndGlyphs">2030</text>
<text x="32.83" y="1261.3" font-size="30" font-weight="400" fill="#111" textLength="47.38" lengthAdjust="spacingAndGlyphs" class="se" font-style="italic">The</text>
<text x="79.89" y="1261.3" font-size="29.2" font-weight="700" fill="url(#gLogo)" textLength="121.11" lengthAdjust="spacingAndGlyphs" stroke="url(#gLogo)" stroke-width="1.0" stroke-linejoin="round">Pıoneer</text>
<text x="294.41" y="1260.3" font-size="22.4" font-weight="400" fill="#b2b2b2" textLength="333.67" lengthAdjust="spacingAndGlyphs">Quelle: EWI und BET Consulting</text>
<text x="727.6" y="1245.3" font-size="13.6" fill="#5a5a5a" letter-spacing="2.72">powered by</text>
<text x="735.66" y="1265.9" font-size="20.6" font-weight="700" fill="#14263c" textLength="63.62" lengthAdjust="spacingAndGlyphs">statista</text>
<g fill="#14263c">
<path d="M804.2,1250 L821.2,1250 L821.2,1251.4 C816.5,1251.8 814.6,1253.6 812.6,1256.2 C810.6,1258.9 809,1260.6 804.2,1260.9 Z"/>
<path d="M821.8,1266.9 L804.2,1266.9 L804.2,1265.5 C809.4,1265.2 811.6,1263.2 813.6,1260.6 C815.6,1257.9 817,1255.9 821.8,1255.8 Z"/>
</g>
</svg></body></html>
